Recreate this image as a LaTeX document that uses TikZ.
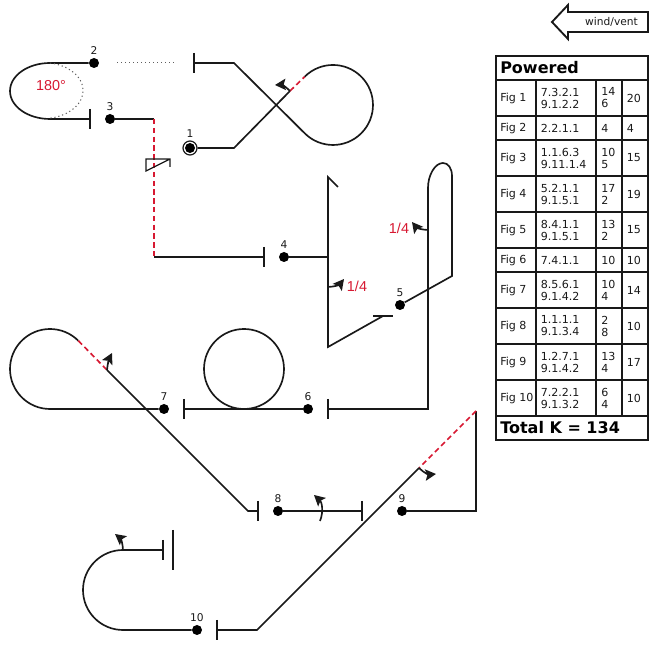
\documentclass[tikz,border=0pt]{standalone}
\usepackage{fontspec}
\setmainfont{DejaVu Sans}
\newfontfamily\redfont{Liberation Sans}
\usetikzlibrary{positioning,arrows.meta}
\definecolor{figred}{RGB}{215,25,50}
\definecolor{figline}{RGB}{25,25,25}
\tikzset{
  figpath/.style={draw=figline,line width=1.25pt,line join=miter},
  figtick/.style={draw=figline,line width=1.4pt},
  figdash/.style={draw=figred,line width=1.25pt,dash pattern={on 4pt off 2.6pt}},
  figdot/.style={draw=figline!70,line width=0.75pt,dash pattern={on 0.9pt off 2.1pt}},
  figturn/.style={draw=figline,line width=1.25pt,-{Stealth[length=8pt,width=8.5pt,inset=1.5pt]}},
  dotnode/.style={circle,fill=black,inner sep=0pt,minimum size=7.5pt},
  numlabel/.style={inner sep=0pt,font=\fontsize{8}{9}\selectfont,text=figline},
  redlabel/.style={inner sep=0pt,font=\redfont\fontsize{10.8}{12}\selectfont,text=figred},
  tablegrid/.style={draw=figline,line width=1.5pt},
  cellnode/.style={anchor=west,inner sep=0pt,align=left,font=\fontsize{8.3}{9}\selectfont,text=figline},
  headnode/.style={anchor=west,inner sep=0pt,font=\bfseries\fontsize{12}{13}\selectfont,text=black},
}

\begin{document}
\begin{tikzpicture}[x=0.75pt,y=0.75pt,yscale=-1,xscale=1]
        \useasboundingbox (0,0) rectangle (662,648);
        % Dots
        \node[dotnode] (d1) at (190,148) {};
        \node[dotnode] (d2) at (94,63) {};
        \node[dotnode] (d3) at (110,119) {};
        \node[dotnode] (d4) at (284,257) {};
        \node[dotnode] (d5) at (400,305) {};
        \node[dotnode] (d6) at (308,409) {};
        \node[dotnode] (d7) at (164,409) {};
        \node[dotnode] (d8) at (278,511) {};
        \node[dotnode] (d9) at (402,511) {};
        \node[dotnode] (d10) at (197,630) {};
        \node[circle,draw=figline,line width=0.9pt,inner sep=0pt,minimum size=10.5pt] (ring1) at (190,148) {};
        % Text Node
        \node[numlabel,above=2pt of ring1] (n1) {1};
        \node[numlabel,above=2.2pt of d2] (n2) {2};
        \node[numlabel,above=2.2pt of d3] (n3) {3};
        \node[numlabel,above=2.2pt of d4] (n4) {4};
        \node[numlabel,above=2.2pt of d5] (n5) {5};
        \node[numlabel,above=2.2pt of d6] (n6) {6};
        \node[numlabel,above=2.2pt of d7] (n7) {7};
        \node[numlabel,above=2.2pt of d8] (n8) {8};
        \node[numlabel,above=2.2pt of d9] (n9) {9};
        \node[numlabel,above=2.2pt of d10] (n10) {10};
        \node[redlabel] (half) at (51,86) {180°};
        \node[redlabel] (quarterA) at (399,228) {1/4};
        \node[redlabel] (quarterB) at (357,286) {1/4};
        % Fig 1
        \coordinate (a1) at (234,148);
        \coordinate (a2) at (290,91);
        \coordinate (a3) at (304.7,76.7);
        \coordinate (a4) at (304.7,133.3);
        \coordinate (a5) at (234,63);
        \coordinate (a6) at (194,63);
        \coordinate (a7) at (275,85);
        \draw[figpath] (ring1) -- (a1) -- (a2);
        \draw[figdash] (a2) -- (a3);
        \draw[figpath] (a3) arc[start angle=-135,end angle=135,radius=40] -- (a5) -- (a6);
        \draw[figtick] (194,53) -- (194,73);
        \draw[figturn] (a2) to[bend left=25] (a7);
        \draw[figdot] (117,63) -- (174,63);
        % Fig 2
        \coordinate (b1) at (50,63);
        \coordinate (b2) at (90,119);
        \draw[figpath] (d2) -- (b1) arc[start angle=270,end angle=90,x radius=40,y radius=28] -- (b2);
        \draw[figdot] (b1) arc[start angle=-80,end angle=80,x radius=40,y radius=28];
        \draw[figtick] (90,109) -- (90,129);
        % Fig 3
        \coordinate (c1) at (154,119);
        \coordinate (c2) at (154,257);
        \coordinate (c3) at (264,257);
        \draw[figpath] (d3) -- (c1);
        \draw[figdash] (c1) -- (c2);
        \draw[figpath] (c2) -- (c3);
        \draw[figtick] (264,247) -- (264,267);
        \draw[draw=figline,line width=0.9pt] (170,167) -- (170,159) -- (146,159) -- (146,171) -- (170,159);
        % Fig 4
        \coordinate (e1) at (328,257);
        \coordinate (e2) at (328,177);
        \coordinate (e3) at (338,187);
        \coordinate (e4) at (328,347);
        \coordinate (e5) at (383,316);
        \coordinate (e6) at (328,287);
        \coordinate (e7) at (344,279);
        \draw[figpath] (d4) -- (e1);
        \draw[figpath] (e3) -- (e2) -- (e4) -- (e5);
        \draw[figpath] (373,316) -- (393,316);
        \draw[figturn] (e6) to[bend left=25] (e7);
        % Fig 5
        \coordinate (f1) at (452,276);
        \coordinate (f2) at (452,176);
        \coordinate (f3) at (428,188);
        \coordinate (f4) at (428,409);
        \coordinate (f5) at (328,409);
        \coordinate (f6) at (428,230);
        \coordinate (f7) at (412,222);
        \draw[figpath] (d5) -- (f1) -- (f2) .. controls (452,168) and (448,163) .. (443,163) .. controls (435,163) and (428,175) .. (f3) -- (f4) -- (f5);
        \draw[figtick] (328,399) -- (328,419);
        \draw[figturn] (f6) to[bend right=25] (f7);
        % Fig 6
        \coordinate (g1) at (244,409);
        \coordinate (g2) at (184,409);
        \draw[figpath] (d6) -- (g2);
        \draw[figpath] (g1) arc[start angle=90,end angle=450,radius=40];
        \draw[figtick] (184,399) -- (184,419);
        % Fig 7
        \coordinate (h1) at (50,409);
        \coordinate (h2) at (78.3,340.7);
        \coordinate (h3) at (107,370);
        \coordinate (h4) at (248,511);
        \coordinate (h5) at (258,511);
        \coordinate (h6) at (112,353);
        \draw[figpath] (d7) -- (h1) arc[start angle=90,end angle=315,radius=40];
        \draw[figdash] (h2) -- (h3);
        \draw[figpath] (h3) -- (h4) -- (h5);
        \draw[figtick] (258,501) -- (258,521);
        \draw[figturn] (h3) to[bend right=10] (h6);
        % Fig 8
        \coordinate (i1) at (362,511);
        \coordinate (i2) at (320,521);
        \coordinate (i3) at (314,495);
        \draw[figpath] (d8) -- (i1);
        \draw[figtick] (362,501) -- (362,521);
        \draw[figturn] (i2) to[bend left=35] (i3);
        % Fig 9
        \coordinate (j1) at (476,511);
        \coordinate (j2) at (476,411);
        \coordinate (j3) at (419,468);
        \coordinate (j4) at (257,630);
        \coordinate (j5) at (217,630);
        \coordinate (j6) at (436,474);
        \draw[figpath] (d9) -- (j1) -- (j2);
        \draw[figdash] (j2) -- (j3);
        \draw[figpath] (j3) -- (j4) -- (j5);
        \draw[figtick] (217,620) -- (217,640);
        \draw[figturn] (j3) to[bend left=25] (j6);
        % Fig 10
        \coordinate (k1) at (123,630);
        \coordinate (k2) at (123,550);
        \coordinate (k3) at (163,550);
        \coordinate (k4) at (115,534);
        \draw[figpath] (d10) -- (k1) arc[start angle=90,end angle=270,radius=40] -- (k3);
        \draw[figtick] (163,540) -- (163,560);
        \draw[figtick] (173,530) -- (173,570);
        \draw[figturn] (k2) to[bend left=25] (k4);
        % Wind arrow
        \draw[draw=figline,line width=1.4pt] (552,22) -- (568,5) -- (568,12) -- (648,12) -- (648,32) -- (568,32) -- (568,39) -- cycle;
        \node[numlabel] (wind) at (611.5,22) {wind/vent};
        % Table
        \draw[tablegrid] (496,56) rectangle (648,440);
        \foreach \liney in {80,116,140,176,212,248,272,308,344,380,416}
            \draw[tablegrid] (496,\liney) -- (648,\liney);
        \foreach \linex in {536,596,622}
            \draw[tablegrid] (\linex,80) -- (\linex,416);
        \node[headnode] (powered) at (500,67.5) {Powered};
        \node[headnode] (total) at (500,428) {Total K = 134};
        \foreach \fig/\rowy/\code/\legs/\sumk in {
            1/98/{7.3.2.1\\9.1.2.2}/{14\\6}/20,
            2/128/{2.2.1.1}/{4}/4,
            3/158/{1.1.6.3\\9.11.1.4}/{10\\5}/15,
            4/194/{5.2.1.1\\9.1.5.1}/{17\\2}/19,
            5/230/{8.4.1.1\\9.1.5.1}/{13\\2}/15,
            6/260/{7.4.1.1}/{10}/10,
            7/290/{8.5.6.1\\9.1.4.2}/{10\\4}/14,
            8/326/{1.1.1.1\\9.1.3.4}/{2\\8}/10,
            9/362/{1.2.7.1\\9.1.4.2}/{13\\4}/17,
            10/398/{7.2.2.1\\9.1.3.2}/{6\\4}/10}{
            \node[cellnode] (fig\fig) at (500,\rowy) {Fig \fig};
            \node[cellnode] (code\fig) at (540.5,\rowy) {\code};
            \node[cellnode] (legs\fig) at (601,\rowy) {\legs};
            \node[cellnode] (sum\fig) at (626.5,\rowy) {\sumk};
        }
    \end{tikzpicture}
\end{document}
